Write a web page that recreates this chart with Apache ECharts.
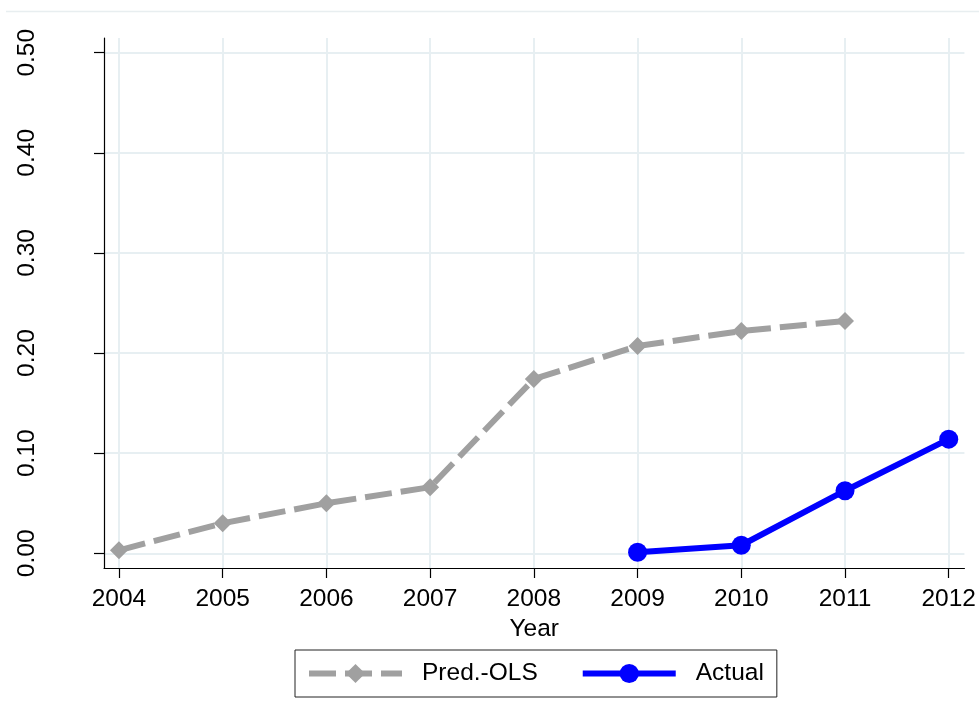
<!DOCTYPE html>
<html>
<head>
<meta charset="utf-8">
<script src="https://cdn.jsdelivr.net/npm/echarts@6/dist/echarts.min.js"></script>
<style>
  html, body { margin: 0; padding: 0; background: #fff; }
  #chart { width: 979px; height: 722px; }
</style>
</head>
<body>
<div id="chart"></div>
<script>
// values
const yearTicks = [2004, 2005, 2006, 2007, 2008, 2009, 2010, 2011, 2012]
const valueTicks = [0, 0.1, 0.2, 0.3, 0.4, 0.5]

const predYears = [2004, 2005, 2006, 2007, 2008, 2009, 2010, 2011]
const predOLS = [0.003, 0.030, 0.050, 0.066, 0.174, 0.207, 0.222, 0.232]

const actualYears = [2009, 2010, 2011, 2012]
const actual = [0.001, 0.008, 0.0625, 0.114]

const FONT = '"Liberation Sans", Arial, Helvetica, sans-serif'
const FONT_SIZE = 24.5
const GRID_COLOR = '#e7eff2'
const PRED_COLOR = '#a0a0a0'
const ACTUAL_COLOR = '#0000ff'
const PRED_DASH = [27, 9]

const zip = (xs, ys) => xs.map((x, i) => [x, ys[i]])

const chart = echarts.init(document.getElementById('chart'), null, { renderer: 'canvas' })

chart.setOption({
  backgroundColor: '#fff',
  animation: false,
  textStyle: { fontFamily: FONT },
  graphic: [
    {
      type: 'line',
      shape: { x1: 6, y1: 11.5, x2: 979, y2: 11.5 },
      style: { stroke: '#e8eef0', lineWidth: 1.5 },
      silent: true,
    },
  ],
  grid: { left: 104, right: 11, top: 38, bottom: 154 },
  xAxis: {
    type: 'value',
    min: 2003.856,
    max: 2012.151,
    name: 'Year',
    nameLocation: 'middle',
    nameGap: 40,
    nameTextStyle: { fontSize: FONT_SIZE, color: '#000', fontFamily: FONT },
    axisLine: { show: true, onZero: false, lineStyle: { color: '#000', width: 1.2 } },
    axisTick: { show: true, length: 10, customValues: yearTicks, lineStyle: { color: '#000', width: 1.2 } },
    axisLabel: {
      customValues: yearTicks,
      fontSize: FONT_SIZE,
      color: '#000',
      margin: 19,
      fontFamily: FONT,
      formatter: (v) => String(Math.round(v)),
    },
    splitLine: { show: true, lineStyle: { color: GRID_COLOR, width: 2 } },
  },
  yAxis: {
    type: 'value',
    min: -0.0147,
    max: 0.5147,
    axisLine: { show: true, onZero: false, lineStyle: { color: '#000', width: 1.2 } },
    axisTick: { show: true, length: 10, customValues: valueTicks, lineStyle: { color: '#000', width: 1.2 } },
    axisLabel: {
      customValues: valueTicks,
      rotate: 90,
      fontSize: FONT_SIZE,
      color: '#000',
      margin: 64,
      fontFamily: FONT,
      formatter: (v) => v.toFixed(2),
    },
    splitLine: { show: true, lineStyle: { color: GRID_COLOR, width: 2 } },
  },
  legend: {
    left: 295,
    top: 650,
    orient: 'horizontal',
    itemWidth: 93,
    itemHeight: 24,
    itemGap: 42,
    padding: [11, 13, 11, 11],
    borderColor: '#222',
    borderWidth: 1,
    lineStyle: { width: 6 },
    textStyle: { fontSize: FONT_SIZE, color: '#000', fontFamily: FONT, padding: [6, 0, 0, 15] },
    data: ['Pred.-OLS', 'Actual'],
  },
  series: [
    {
      name: 'Pred.-OLS',
      type: 'line',
      data: zip(predYears, predOLS),
      symbol: 'diamond',
      symbolSize: 18,
      itemStyle: { color: PRED_COLOR },
      lineStyle: { color: PRED_COLOR, width: 6, type: PRED_DASH, cap: 'butt' },
      z: 3,
    },
    {
      name: 'Actual',
      type: 'line',
      data: zip(actualYears, actual),
      symbol: 'circle',
      symbolSize: 19,
      itemStyle: { color: ACTUAL_COLOR },
      lineStyle: { color: ACTUAL_COLOR, width: 6 },
      z: 4,
    },
  ],
})
</script>
</body>
</html>
